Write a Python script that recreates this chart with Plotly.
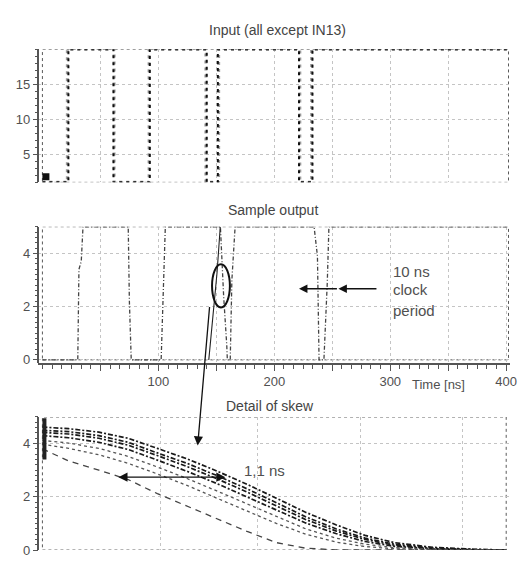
import plotly.graph_objects as go

# ---------------- data ----------------
# Panel 1: input signals (step edges, ns) -- levels low/high
input_black_t = [0, 22.4, 61.3, 92.6, 141.7, 151.3, 221.3, 232.9, 402]
input_black_v = [1, 20, 1, 20, 1, 20, 1, 20, 20]
input_gray_t = [0, 21.5, 61.8, 92.0, 141.0, 152.0, 222.0, 232.2, 402]
input_gray_v = [1, 20, 1, 20, 1, 20, 1, 20, 20]
cursor_t = [3]
cursor_v = [1.8]

# Panel 2: sample output (ns, V)
out_t = [0, 30.5, 31.5, 33.5, 35, 74, 75, 76.6, 102.4, 104, 106, 153.5, 156.3, 159, 159.5,
         162, 163.4, 166.2, 234.3, 237.2, 238.6, 242.8, 245.7, 247.1, 402]
out_v = [0, 0, 3.4, 3.7, 5, 5, 2.2, 0, 0, 2.5, 5, 5, 2.4, 0.55, 0,
         0, 3.0, 5, 5, 3.9, 0, 0, 2.9, 5, 5]
edge_t = [143.5, 150.6, 153.4]
edge_v = [0, 3.27, 5]

# Panel 3: detail of skew (ns, V)
skew_t = [0, 0.26, 0.56, 0.85, 1.14, 1.44, 1.73, 2.03, 2.32, 2.61, 2.91, 3.2, 3.49, 3.88, 4.28, 4.6]
skew_a = [4.62, 4.56, 4.43, 4.2, 3.82, 3.42, 2.97, 2.47, 1.95, 1.42, 0.95, 0.55, 0.28, 0.1, 0.03, 0.0]
skew_b = [4.5, 4.45, 4.3, 4.05, 3.65, 3.25, 2.8, 2.3, 1.78, 1.25, 0.8, 0.45, 0.22, 0.07, 0.02, 0.0]
skew_c = [4.42, 4.36, 4.2, 3.94, 3.55, 3.13, 2.68, 2.18, 1.66, 1.15, 0.72, 0.4, 0.18, 0.05, 0.01, 0.0]
skew_d = [4.3, 4.22, 4.05, 3.78, 3.38, 2.95, 2.5, 2.0, 1.5, 1.02, 0.62, 0.32, 0.14, 0.04, 0.01, 0.0]
skew_e = [4.12, 4.02, 3.82, 3.52, 3.12, 2.68, 2.22, 1.73, 1.25, 0.8, 0.45, 0.22, 0.09, 0.03, 0.0, 0.0]
skew_f = [3.98, 3.82, 3.58, 3.26, 2.86, 2.42, 1.95, 1.46, 1.0, 0.6, 0.3, 0.13, 0.05, 0.01, 0.0, 0.0]
skew_g = [3.8, 3.35, 3.0, 2.65, 2.12, 1.64, 1.18, 0.7, 0.28, 0.07, 0.01, 0.0, 0.0, 0.0, 0.0, 0.0]
# start marks at left edge of detail panel
start_t = [0.02, 0.02]
start_v = [3.4, 4.95]

time_ticks = [50, 100, 150, 200, 250, 300, 350, 400]
time_tick_labels = ["", "100", "", "200", "", "300", "", "400"]

# ---------------- figure ----------------
FONT = "Liberation Sans, Arial, sans-serif"
TXT = "#505050"
AX = "#555555"
GRID = "#c4c4c4"

W, H = 526, 562
xdom = [39 / W, 517 / W]
t_range = [-3.4, 403.4]
u_range = [-0.039, 4.639]

fig = go.Figure()

# panel 1
fig.add_trace(go.Scatter(x=input_gray_t, y=input_gray_v, mode="lines", line_shape="hv",
                         line=dict(color="#9a9a9a", width=3, dash="3px,4px"),
                         xaxis="x", yaxis="y"))
fig.add_trace(go.Scatter(x=input_black_t, y=input_black_v, mode="lines", line_shape="hv",
                         line=dict(color="#111111", width=2, dash="3px,4px"),
                         xaxis="x", yaxis="y"))
fig.add_trace(go.Scatter(x=cursor_t, y=cursor_v, mode="markers",
                         marker=dict(symbol="square", size=7, color="#111"),
                         xaxis="x", yaxis="y"))

# panel 2
fig.add_trace(go.Scatter(x=out_t, y=out_v, mode="lines",
                         line=dict(color="#444444", width=1.3, dash="4px,2px,1px,2px"),
                         xaxis="x2", yaxis="y2"))
fig.add_trace(go.Scatter(x=edge_t, y=edge_v, mode="lines",
                         line=dict(color="#222222", width=1.1),
                         xaxis="x2", yaxis="y2"))

# panel 3
bundle_style = dict(color="#1a1a1a", width=1.7, dash="5px,2px,2px,2px")
for arr in [skew_a, skew_b, skew_c, skew_d]:
    fig.add_trace(go.Scatter(x=skew_t, y=arr, mode="lines", line=bundle_style,
                             xaxis="x3", yaxis="y3"))
for arr in [skew_e, skew_f]:
    fig.add_trace(go.Scatter(x=skew_t, y=arr, mode="lines",
                             line=dict(color="#555555", width=1.3, dash="3px,3px"),
                             xaxis="x3", yaxis="y3"))
fig.add_trace(go.Scatter(x=skew_t, y=skew_g, mode="lines",
                         line=dict(color="#444444", width=1.3, dash="6px,5px"),
                         xaxis="x3", yaxis="y3"))
fig.add_trace(go.Scatter(x=start_t, y=start_v, mode="lines",
                         line=dict(color="#222222", width=4),
                         xaxis="x3", yaxis="y3"))

tickfont = dict(family=FONT, size=13, color=TXT)

yaxis_common = dict(showline=True, linecolor=AX, linewidth=1.5, ticks="outside",
                    ticklen=5, tickcolor=AX, tickfont=tickfont, showgrid=True,
                    gridcolor=GRID, griddash="dot", gridwidth=1, zeroline=False,
                    anchor="free", position=xdom[0])

fig.update_layout(
    width=W, height=H, margin=dict(l=0, r=0, t=0, b=0),
    paper_bgcolor="white", plot_bgcolor="white", showlegend=False,
    font=dict(family=FONT, color=TXT),
    xaxis=dict(domain=xdom, range=t_range, anchor="y", showline=False, showticklabels=False,
               ticks="", tickvals=[50, 100, 150, 200, 250, 300, 350],
               showgrid=True, gridcolor=GRID, griddash="dot", zeroline=False),
    yaxis=dict(domain=[(H - 185) / H, (H - 50) / H], range=[1, 20],
               tickvals=[5, 10, 15],
               minor=dict(dtick=1, tick0=0, ticks="outside", ticklen=3, tickcolor=AX, showgrid=False),
               **yaxis_common),
    xaxis2=dict(domain=xdom, range=t_range, anchor="y2", showline=True, linecolor=AX, linewidth=1.5,
                tickvals=time_ticks, ticktext=time_tick_labels,
                ticks="outside", ticklen=6, tickcolor=AX, tickfont=tickfont,
                minor=dict(dtick=100 / 12, tick0=0, ticks="outside", ticklen=4, tickcolor=AX, showgrid=False),
                showgrid=True, gridcolor=GRID, griddash="dot", zeroline=False),
    yaxis2=dict(domain=[(H - 368) / H, (H - 230) / H], range=[-0.11, 5],
                tickvals=[0, 2, 4],
                minor=dict(dtick=0.2, tick0=0, ticks="outside", ticklen=3, tickcolor=AX, showgrid=False),
                **yaxis_common),
    xaxis3=dict(domain=xdom, range=u_range, anchor="y3", showline=False, showticklabels=False,
                ticks="", tickvals=[1.17, 2.13, 3.15, 4.17],
                showgrid=True, gridcolor=GRID, griddash="dot", zeroline=False),
    yaxis3=dict(domain=[(H - 558) / H, (H - 423) / H], range=[0, 5],
                tickvals=[0, 2, 4],
                minor=dict(dtick=0.2, tick0=0, ticks="outside", ticklen=3, tickcolor=AX, showgrid=False),
                **yaxis_common),
)

# dotted frames
frame = dict(color="#5a5a5a", width=1, dash="3px,3px")
fig.add_shape(type="rect", xref="x", yref="y", x0=0, x1=402, y0=1, y1=20, line=frame, layer="below")
fig.add_shape(type="rect", xref="x2", yref="y2", x0=0, x1=402, y0=0, y1=5, line=frame, layer="below")
fig.add_shape(type="rect", xref="x3", yref="y3", x0=0, x1=4.6, y0=0, y1=5, line=frame, layer="below")

# ellipse around skewed edge
fig.add_shape(type="circle", xref="x2", yref="y2", x0=146.3, x1=161.7, y0=1.97, y1=3.59,
              line=dict(color="#111", width=2))

title_font = dict(family=FONT, size=14, color="#444")
for txt, xc, yc in [("Input (all except IN13)", 281, 30), ("Sample output", 277, 213),
                    ("Detail of skew", 274, 412)]:
    fig.add_annotation(text=txt, x=xc / W, y=(H - yc) / H, xref="paper", yref="paper",
                       xanchor="center", yanchor="middle", showarrow=False, font=title_font)
fig.add_annotation(text="Time [ns]", x=444 / W, y=(H - 390) / H, xref="paper", yref="paper",
                   xanchor="center", yanchor="middle", showarrow=False,
                   font=dict(family=FONT, size=13, color=TXT))

# clock period arrows
for head, tail in [(255.3, 289.4), (221.3, 255.3)]:
    fig.add_annotation(x=head, y=2.67, ax=tail, ay=2.67, xref="x2", yref="y2", axref="x2", ayref="y2",
                       text="", showarrow=True, arrowhead=2, arrowsize=1.3, arrowwidth=1.3, arrowcolor="#111")
for txt, yv in [("10 ns", 3.33), ("clock", 2.63), ("period", 1.85)]:
    fig.add_annotation(text=txt, x=300.4, y=yv, xref="x2", yref="y2", xanchor="left", yanchor="middle",
                       showarrow=False, font=dict(family=FONT, size=15, color=TXT))

# arrow from ellipse down to detail panel
fig.add_annotation(x=1.54, y=3.93, xref="x3", yref="y3", ax=12, ay=-140, text="", showarrow=True,
                   arrowhead=2, arrowsize=1.4, arrowwidth=1.3, arrowcolor="#111")

# 1,1 ns skew arrow
fig.add_annotation(x=0.754, y=2.74, ax=1.83, ay=2.74, xref="x3", yref="y3", axref="x3", ayref="y3",
                   text="", showarrow=True, arrowside="end+start", arrowhead=2, startarrowhead=2,
                   arrowsize=1.4, startarrowsize=1.4, arrowwidth=1.3, arrowcolor="#111")
fig.add_annotation(text="1,1 ns", x=2.2, y=3.0, xref="x3", yref="y3", showarrow=False,
                   font=dict(family=FONT, size=15, color=TXT))

fig.write_html("out.html", config={"displayModeBar": False},
               post_script="document.body.style.margin='0';document.body.style.overflow='hidden';")
